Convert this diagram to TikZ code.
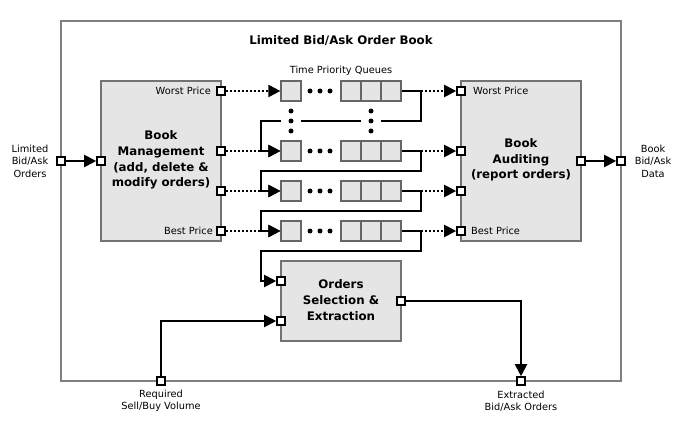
\documentclass[tikz,border=0pt]{standalone}
\usepackage{fontspec}
\setmainfont{DejaVu Sans}
\usetikzlibrary{arrows.meta}
\begin{document}
\begin{tikzpicture}[x=1pt,y=-1pt,
  frame/.style={draw=black!50,line width=1.5pt},
  blk/.style={draw=black!55,fill=black!10,line width=1.5pt,inner sep=0pt},
  port/.style={rectangle,draw=black,fill=white,line width=1.6pt,minimum size=8pt,inner sep=0pt},
  cell/.style={rectangle,draw=black!60,fill=black!10,line width=1.2pt,minimum size=20pt,inner sep=0pt},
  blob/.style={circle,fill=black,minimum size=5pt,inner sep=0pt},
  wire/.style={line width=2pt},
  tip/.style={-{Triangle[length=12pt,width=12pt]}},
  flow/.style={wire,tip},
  dotline/.style={line width=2pt,dash pattern=on 2pt off 2pt},
  lbl/.style={font=\fontsize{9.8}{12.5}\selectfont,align=center,inner sep=0pt},
  ttl/.style={font=\bfseries\fontsize{11.8}{15.7}\selectfont,align=center,inner sep=0pt}
]
\useasboundingbox (0,0) rectangle (682,422);
\draw[frame] (61,21) rectangle (621,381);

% blocks
\node[blk,minimum width=120pt,minimum height=160pt] (bm) at (161,161) {};
\node[blk,minimum width=120pt,minimum height=160pt] (ba) at (521,161) {};
\node[blk,minimum width=120pt,minimum height=80pt] (os) at (341,301) {};
\node[ttl] (bmt) at (161,160) {Book\\Management\\(add, delete \&\\modify orders)};
\node[ttl] (bat) at (521,160) {Book\\Auditing\\(report orders)};
\node[ttl] (ost) at (341,300) {Orders\\Selection \&\\Extraction};

% titles and labels
\node[ttl] (title) at (341,41) {Limited Bid/Ask Order Book};
\node[lbl] (tpq) at (341,71) {Time Priority Queues};
\node[lbl,anchor=east] (wpl) at (211,91) {Worst Price};
\node[lbl,anchor=east] (bpl) at (213,231) {Best Price};
\node[lbl,anchor=west] (wpr) at (473,91) {Worst Price};
\node[lbl,anchor=west] (bpr) at (471,231) {Best Price};
\node[lbl] (linl) at (30,161) {Limited\\Bid/Ask\\Orders};
\node[lbl] (outl) at (653,161) {Book\\Bid/Ask\\Data};
\node[lbl] (reql) at (161,401) {Required\\Sell/Buy Volume};
\node[lbl] (extl) at (521,401) {Extracted\\Bid/Ask Orders};

% queues
\foreach \i/\y in {1/91,2/151,3/191,4/231}{
  \node[cell] (q\i a) at (291,\y) {};
  \node[cell] (q\i b) at (351,\y) {};
  \node[cell] (q\i c) at (371,\y) {};
  \node[cell] (q\i d) at (391,\y) {};
  \node[blob] (h\i a) at (310,\y) {};
  \node[blob] (h\i b) at (320,\y) {};
  \node[blob] (h\i c) at (330,\y) {};
  \coordinate (j\i) at (421,\y);
}
\coordinate (t1) at (261,121);
\coordinate (t2) at (261,171);
\coordinate (t3) at (261,211);
\coordinate (t4) at (261,251);

% ports
\node[port] (in) at (61,161) {};
\node[port] (bmi) at (101,161) {};
\node[port] (bm1) at (221,91) {};
\node[port] (bm2) at (221,151) {};
\node[port] (bm3) at (221,191) {};
\node[port] (bm4) at (221,231) {};
\node[port] (ba1) at (461,91) {};
\node[port] (ba2) at (461,151) {};
\node[port] (ba3) at (461,191) {};
\node[port] (ba4) at (461,231) {};
\node[port] (bao) at (581,161) {};
\node[port] (out) at (621,161) {};
\node[port] (osi1) at (281,281) {};
\node[port] (osi2) at (281,321) {};
\node[port] (oso) at (401,301) {};
\node[port] (req) at (161,381) {};
\node[port] (ext) at (521,381) {};

% connectors
\draw[flow] (in) -- (bmi);
\draw[flow] (bao) -- (out);
\foreach \i in {1,2,3,4}{
  \draw[dotline,tip] (bm\i) -- (q\i a);
  \draw[wire] (q\i d) -- (j\i);
  \draw[dotline,tip] (j\i) -- (ba\i);
}
\draw[flow] (j1) |- (t1) |- (q2a);
\draw[flow] (j2) |- (t2) |- (q3a);
\draw[flow] (j3) |- (t3) |- (q4a);
\draw[flow] (j4) |- (t4) |- (osi1);
\draw[flow] (oso) -| (ext);
\draw[flow] (req) |- (osi2);

% vertical dots (mask the loop line)
\foreach \x/\n in {291/l,371/r}{
  \node[fill=white,minimum width=20pt,minimum height=34pt,inner sep=0pt] (g\n) at (\x,121) {};
  \node[blob] (v\n a) at (\x,111) {};
  \node[blob] (v\n b) at (\x,121) {};
  \node[blob] (v\n c) at (\x,131) {};
}
\end{tikzpicture}
\end{document}
